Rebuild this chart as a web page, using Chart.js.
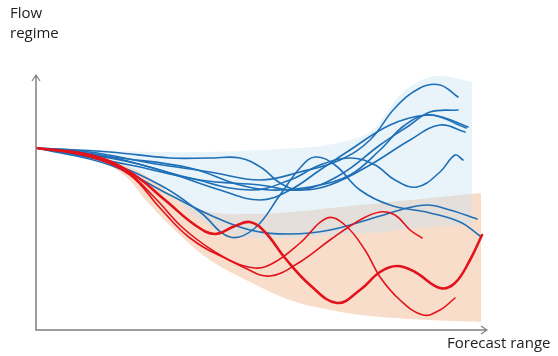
<!DOCTYPE html>
<html>
<head>
<meta charset="utf-8">
<script src="https://cdn.jsdelivr.net/npm/chart.js@4.4.1/dist/chart.umd.min.js"></script>
<style>
  html, body { margin: 0; padding: 0; background: #fff; }
  #chart { display: block; }
</style>
</head>
<body>
<canvas id="chart" width="558" height="356"></canvas>
<script>
const ctx = document.getElementById('chart');

// axis titles
const yTitle = ['Flow', 'regime'];
const xTitle = 'Forecast range';

// ensemble members [forecast step, flow value]
const blue1 = [[0,182],[54,178],[114,167],[174,158],[224,150],[264,158],[304,170],[334,190],[359,222],[384,242],[404,245],[422,233]];
const blue2 = [[0,182],[64,175],[124,160],[184,140],[224,130],[254,140],[284,160],[314,180],[354,205],[389,215],[409,212],[432,203]];
const blue3 = [[0,182],[74,178],[134,172],[174,172],[204,172],[226,162],[244,147],[264,140],[294,145],[334,165],[374,190],[404,205],[429,198]];
const blue4 = [[0,182],[94,165],[164,150],[224,145],[264,140],[304,155],[344,185],[374,205],[394,218],[422,220]];
const blue5 = [[0,182],[84,170],[154,152],[214,140],[254,150],[284,165],[314,172],[339,165],[359,150],[381,143],[404,158],[419,175],[427,170]];
const blue6 = [[0,182],[74,165],[134,135],[174,115],[214,100],[254,96],[294,100],[344,114],[364,120],[391,125],[414,120],[441,111]];
const blue7 = [[0,182],[64,170],[124,145],[164,118],[194,93],[219,102],[244,135],[264,162],[279,173],[299,165],[324,140],[354,125],[394,117],[424,108],[444,94]];
const blue8 = [[0,182],[84,172],[154,162],[204,145],[234,140],[274,143],[314,155],[344,180],[369,205],[394,215],[430,202]];

const red1 = [[0,182],[54,175],[94,158],[129,130],[159,105],[179,96],[199,104],[214,108],[229,98],[249,72],[274,45],[301,27],[324,40],[344,58],[361,64],[379,58],[404,42],[419,47],[434,70],[446,95]];
const red2 = [[0,182],[54,174],[89,160],[119,132],[147,102],[179,78],[209,62],[234,54],[264,68],[294,90],[324,110],[344,118],[359,115],[374,100],[386,92]];
const red3 = [[0,182],[54,173],[94,155],[124,122],[154,92],[189,72],[219,62],[239,68],[264,87],[291,112],[309,105],[329,80],[344,53],[364,30],[387,15],[404,20],[419,32]];

// spread envelopes
const blueBandX     = [0,44,84,124,164,204,244,284,314,334,349,364,384,404,436];
const blueBandUpper = [182,181,179,178,178,179,181,184,190,198,215,235,249,254,248];
const blueBandLower = [182,175,165,145,110,94,92,94,96,97,98,100,102,104,105];

const redBandX     = [0,44,84,114,144,174,214,254,294,334,374,414,445];
const redBandUpper = [182,178,167,152,130,118,116,118,122,126,130,134,137];
const redBandLower = [182,175,158,125,95,70,48,30,20,14,11,9,8];

const BLUE = '#1f6fb6';
const RED = '#e3131b';

function pts(arr) {
    return arr.map(p => ({x: p[0], y: p[1]}));
}
function band(xs, ys) {
    return xs.map((x, i) => ({x: x, y: ys[i]}));
}

let datasets = [];
[blue1, blue2, blue3, blue4, blue5, blue6, blue7, blue8].forEach(b => {
    datasets.push({data: pts(b), borderColor: BLUE, borderWidth: 1.6, order: 1});
});
datasets.push({data: pts(red2), borderColor: RED, borderWidth: 1.6, order: 0});
datasets.push({data: pts(red3), borderColor: RED, borderWidth: 1.6, order: 0});
datasets.push({data: pts(red1), borderColor: RED, borderWidth: 2.6, order: 0});

// bands: upper edge fills to the next dataset (lower edge); blue one laid over the red one
datasets.push({data: band(redBandX, redBandUpper), borderWidth: 0, fill: '+1', backgroundColor: '#f9ddcb', order: 4});
datasets.push({data: band(redBandX, redBandLower), borderWidth: 0, fill: false, order: 4});
datasets.push({data: band(blueBandX, blueBandUpper), borderWidth: 0, fill: '+1', backgroundColor: 'rgba(200,228,243,0.4)', order: 3});
datasets.push({data: band(blueBandX, blueBandLower), borderWidth: 0, fill: false, order: 3});

const axesPlugin = {
    id: 'axesPlugin',
    afterDraw(chart) {
        const c = chart.ctx;
        const xs = chart.scales.x, ys = chart.scales.y;
        const x0 = xs.getPixelForValue(0), y0 = ys.getPixelForValue(0);
        const xEnd = xs.getPixelForValue(451), yEnd = ys.getPixelForValue(255);
        c.save();
        c.strokeStyle = '#7f7f7f';
        c.lineWidth = 1.5;
        c.beginPath();
        c.moveTo(x0, yEnd); c.lineTo(x0, y0); c.lineTo(xEnd, y0);
        c.stroke();
        c.lineWidth = 1.2;
        c.beginPath();
        c.moveTo(x0 - 4, yEnd + 6); c.lineTo(x0, yEnd); c.lineTo(x0 + 4, yEnd + 6);
        c.moveTo(xEnd - 6, y0 - 4); c.lineTo(xEnd, y0); c.lineTo(xEnd - 6, y0 + 4);
        c.stroke();
        c.fillStyle = '#222';
        c.font = '15px "Open Sans"';
        c.textBaseline = 'alphabetic';
        c.fillText(yTitle[0], 10, 18);
        c.fillText(yTitle[1], 10, 38);
        c.fillText(xTitle, 447, 348);
        c.restore();
    }
};

let myChart = new Chart(ctx, {
    type: 'line',
    data: {datasets: datasets},
    options: {
        responsive: false,
        animation: false,
        layout: {padding: {left: 36, right: 70, top: 73, bottom: 26}},
        elements: {
            line: {tension: 0.4, borderCapStyle: 'round'},
            point: {radius: 0}
        },
        scales: {
            x: {type: 'linear', min: 0, max: 452, display: false},
            y: {type: 'linear', min: 0, max: 257, display: false}
        },
        plugins: {legend: {display: false}, tooltip: {enabled: false}}
    },
    plugins: [axesPlugin]
});
</script>
</body>
</html>
